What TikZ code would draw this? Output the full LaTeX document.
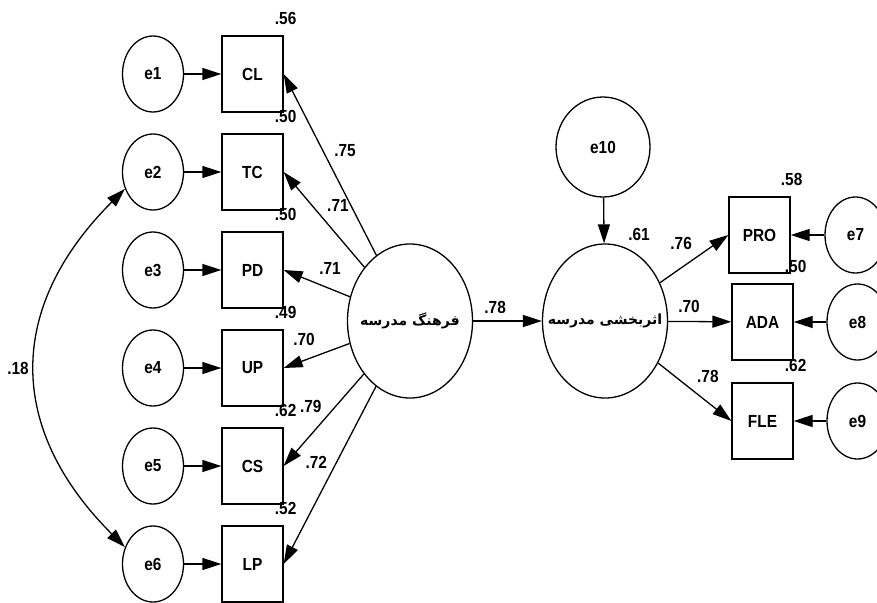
\documentclass[tikz,border=0pt]{standalone}
\usepackage{fontspec}
\setmainfont{Liberation Sans}[FakeStretch=0.88]
\newfontfamily\farsi[Script=Arabic]{DejaVu Sans}
\TeXXeTstate=1
\usetikzlibrary{arrows.meta,shapes.geometric}

\begin{document}
\begin{tikzpicture}[x=1pt, y=-1pt, node distance=98pt, line width=1.3pt,
  >={Triangle[length=19pt,width=12pt]},
  every node/.style={font=\fontsize{17.5}{20}\selectfont\bfseries},
  obs/.style={draw, rectangle, minimum width=61pt, minimum height=76pt, inner sep=0pt},
  err/.style={draw, ellipse, minimum width=61pt, minimum height=76pt, inner sep=0pt},
  latent/.style={draw, ellipse, minimum width=125pt, minimum height=154pt, inner sep=0pt,
    font=\farsi\fontsize{14}{16}\selectfont\bfseries},
  num/.style={inner sep=0pt}]
\useasboundingbox (0,0) rectangle (877,602);
\fill[white] (0,0) rectangle (877,602);
\clip (0,0) rectangle (877,602);

% Nodes
\node[obs] (cl) at (252.5,74) {CL};
\node[obs, below of=cl] (tc) {TC};
\node[obs, below of=tc] (pd) {PD};
\node[obs, below of=pd] (up) {UP};
\node[obs, below of=up] (cs) {CS};
\node[obs, below of=cs] (lp) {LP};

\node[err, left of=cl, node distance=99.5pt] (e1) {e1};
\node[err, left of=tc, node distance=99.5pt] (e2) {e2};
\node[err, left of=pd, node distance=99.5pt] (e3) {e3};
\node[err, left of=up, node distance=99.5pt] (e4) {e4};
\node[err, left of=cs, node distance=99.5pt] (e5) {e5};
\node[err, left of=lp, node distance=99.5pt] (e6) {e6};

\node[latent] (cult) at (410,321) {\makebox[0pt]{\beginR فرهنگ مدرسه\endR}};
\node[latent] (eff) at (605,321) {\makebox[0pt]{\beginR اثربخشی مدرسه\endR}};
\node[err, minimum width=94pt, minimum height=100pt] (e10) at (603,147) {e10};

\node[obs] (pro) at (759.5,235) {PRO};
\node[obs] (ada) at (762.5,322) {ADA};
\node[obs] (fle) at (762.5,421) {FLE};
\node[err, right of=pro, node distance=96pt] (e7) {e7};
\node[err, right of=ada, node distance=95pt] (e8) {e8};
\node[err, right of=fle, node distance=95pt] (e9) {e9};

% Squared multiple correlations
\node[num] (r1) at ([shift={(2pt,17pt)}]cl.north east) {.56};
\node[num] (r2) at ([shift={(2pt,17pt)}]tc.north east) {.50};
\node[num] (r3) at ([shift={(2pt,17pt)}]pd.north east) {.50};
\node[num] (r4) at ([shift={(2pt,17pt)}]up.north east) {.49};
\node[num] (r5) at ([shift={(2pt,17pt)}]cs.north east) {.62};
\node[num] (r6) at ([shift={(2pt,17pt)}]lp.north east) {.52};
\node[num] (r7) at ([shift={(1pt,17pt)}]pro.north east) {.58};
\node[num] (r8) at ([shift={(2pt,17pt)}]ada.north east) {.50};
\node[num] (r9) at ([shift={(2pt,17pt)}]fle.north east) {.62};
\node[num] (r10) at ([xshift=34pt, yshift=9pt]eff.north) {.61};

% Arrows
\draw[->] (e1) -- (cl);
\draw[->] (e2) -- (tc);
\draw[->] (e3) -- (pd);
\draw[->] (e4) -- (up);
\draw[->] (e5) -- (cs);
\draw[->] (e6) -- (lp);

\draw[->] (cult) -- (cl.east) node[pos=.575, xshift=22pt] {.75};
\draw[->] (cult) -- (tc.east) node[pos=.65, xshift=26pt] {.71};
\draw[->] (cult) -- (pd.east) node[pos=.3, yshift=20pt] {.71};
\draw[->] (cult) -- (up.east) node[pos=.69, yshift=21pt] {.70};
\draw[->] (cult) -- (cs.east) node[pos=.35, xshift=-25pt] {.79};
\draw[->] (cult) -- (lp.east) node[pos=.43, xshift=-20pt] {.72};

\draw[->] (cult) -- (eff) node[pos=.32, yshift=14pt] {.78};
\draw[->] (e10) -- (eff);
\draw[->] (eff) -- (pro.west) node[pos=.31, yshift=24pt] {.76};
\draw[->] (eff) -- (ada) node[pos=.33, yshift=15pt] {.70};
\draw[->] (eff) -- (fle.west) node[pos=.68, yshift=26pt] {.78};

\draw[->] (e7) -- (pro);
\draw[->] (e8) -- (ada);
\draw[->] (e9) -- (fle);

\draw[<->] (e2.211) to[out=225, in=135, looseness=1.2] node[midway, xshift=-18pt] {.18} (e6.149);

\end{tikzpicture}
\end{document}
